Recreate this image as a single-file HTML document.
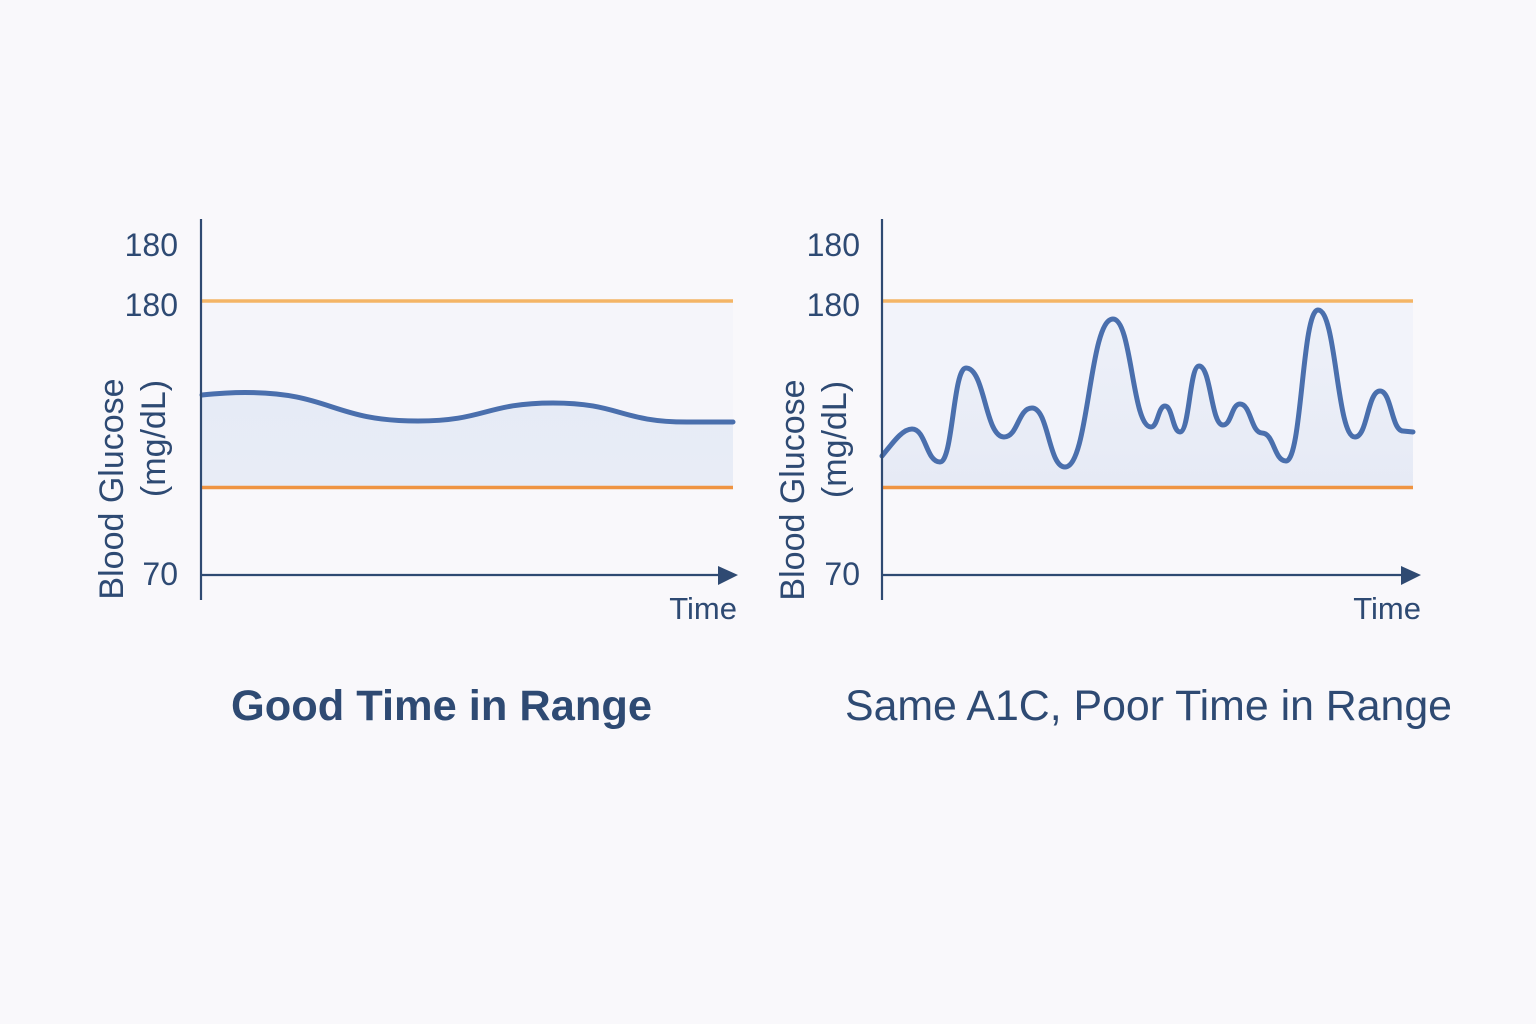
<!DOCTYPE html>
<html>
<head>
<meta charset="utf-8">
<style>
  html,body{margin:0;padding:0;background:#f9f8fb;}
  svg{display:block;}
  text{font-family:"Liberation Sans", sans-serif; fill:#2e4a73;}
</style>
</head>
<body>
<svg width="1536" height="1024" viewBox="0 0 1536 1024" xmlns="http://www.w3.org/2000/svg">
  <defs>
    <linearGradient id="fillL" x1="0" y1="0" x2="0" y2="1">
      <stop offset="0" stop-color="#e6ebf6"/>
      <stop offset="1" stop-color="#e8ecf6"/>
    </linearGradient>
    <linearGradient id="fillR" x1="0" y1="0" x2="0" y2="1">
      <stop offset="0" stop-color="#eef1f9"/>
      <stop offset="1" stop-color="#e6eaf5"/>
    </linearGradient>
  </defs>
  <rect width="1536" height="1024" fill="#f9f8fb"/>

  <!-- ============ LEFT CHART ============ -->
  <rect x="202" y="301" width="531" height="186" fill="#f5f5fa"/>
  <path d="M202,395 C222,393 232,392.5 245,392.5 C331.5,392.5 331.5,421 418,421 C485.5,421 485.5,403 553,403 C620,403 620,422 687,422 L733,422 L733,487 L202,487 Z" fill="url(#fillL)"/>
  <line x1="202" y1="301" x2="733" y2="301" stroke="#f4b566" stroke-width="3.5"/>
  <line x1="202" y1="487.5" x2="733" y2="487.5" stroke="#ef9442" stroke-width="3.5"/>
  <path d="M202,395 C222,393 232,392.5 245,392.5 C331.5,392.5 331.5,421 418,421 C485.5,421 485.5,403 553,403 C620,403 620,422 687,422 L733,422" fill="none" stroke="#4a6fad" stroke-width="5" stroke-linecap="round"/>
  <!-- axes -->
  <line x1="201" y1="219" x2="201" y2="600" stroke="#2f4a72" stroke-width="2.2"/>
  <line x1="201" y1="575" x2="722" y2="575" stroke="#2f4a72" stroke-width="2.2"/>
  <polygon points="718,566 738,575 718,585" fill="#2f4a72"/>
  <!-- labels -->
  <text x="178" y="256" font-size="32" text-anchor="end">180</text>
  <text x="178" y="316" font-size="32" text-anchor="end">180</text>
  <text x="178" y="585" font-size="32" text-anchor="end">70</text>
  <text transform="translate(123,489) rotate(-90)" font-size="34" text-anchor="middle">Blood Glucose</text>
  <text transform="translate(165,438.5) rotate(-90)" font-size="34" text-anchor="middle">(mg/dL)</text>
  <text x="737" y="619" font-size="31" text-anchor="end">Time</text>
  <text x="231" y="720" font-size="43" font-weight="bold" textLength="421" lengthAdjust="spacingAndGlyphs">Good Time in Range</text>

  <!-- ============ RIGHT CHART ============ -->
  <rect x="882" y="301" width="531" height="186" fill="#f2f3fa"/>
  <path d="M882,456 C892,444 902,429 912,429 C926,429 926,462 940,462 C953,462 953,368 966,368 C985,368 985,437 1004,437 C1018,437 1018,408 1032,408 C1048.5,408 1048.5,467 1065,467 C1089,467 1089,319 1113,319 C1132,319 1132,427 1151,427 C1158,427 1158,406 1165,406 C1172.5,406 1172.5,432 1180,432 C1189.5,432 1189.5,366 1199,366 C1211,366 1211,425 1223,425 C1231.5,425 1231.5,404 1240,404 C1251,404 1251,433 1262,433 C1274,433 1274,461 1286,461 C1302,461 1302,310 1318,310 C1336.5,310 1336.5,437 1355,437 C1367.5,437 1367.5,391 1380,391 C1391.5,391 1391.5,431 1403,431 L1413,432 L1413,487 L882,487 Z" fill="url(#fillR)"/>
  <line x1="882" y1="301" x2="1413" y2="301" stroke="#f4b566" stroke-width="3.5"/>
  <line x1="882" y1="487.5" x2="1413" y2="487.5" stroke="#ef9442" stroke-width="3.5"/>
  <path d="M882,456 C892,444 902,429 912,429 C926,429 926,462 940,462 C953,462 953,368 966,368 C985,368 985,437 1004,437 C1018,437 1018,408 1032,408 C1048.5,408 1048.5,467 1065,467 C1089,467 1089,319 1113,319 C1132,319 1132,427 1151,427 C1158,427 1158,406 1165,406 C1172.5,406 1172.5,432 1180,432 C1189.5,432 1189.5,366 1199,366 C1211,366 1211,425 1223,425 C1231.5,425 1231.5,404 1240,404 C1251,404 1251,433 1262,433 C1274,433 1274,461 1286,461 C1302,461 1302,310 1318,310 C1336.5,310 1336.5,437 1355,437 C1367.5,437 1367.5,391 1380,391 C1391.5,391 1391.5,431 1403,431 L1413,432" fill="none" stroke="#4a6fad" stroke-width="5" stroke-linecap="round" stroke-linejoin="round"/>
  <!-- axes -->
  <line x1="882" y1="219" x2="882" y2="600" stroke="#2f4a72" stroke-width="2.2"/>
  <line x1="882" y1="575" x2="1404" y2="575" stroke="#2f4a72" stroke-width="2.2"/>
  <polygon points="1401,566 1421,575 1401,585" fill="#2f4a72"/>
  <!-- labels -->
  <text x="860" y="256" font-size="32" text-anchor="end">180</text>
  <text x="860" y="316" font-size="32" text-anchor="end">180</text>
  <text x="860" y="585" font-size="32" text-anchor="end">70</text>
  <text transform="translate(804,490) rotate(-90)" font-size="34" text-anchor="middle">Blood Glucose</text>
  <text transform="translate(846,439.5) rotate(-90)" font-size="34" text-anchor="middle">(mg/dL)</text>
  <text x="1421" y="619" font-size="31" text-anchor="end">Time</text>
  <text x="845" y="720" font-size="42.5" textLength="607" lengthAdjust="spacingAndGlyphs">Same A1C, Poor Time in Range</text>
</svg>
</body>
</html>
